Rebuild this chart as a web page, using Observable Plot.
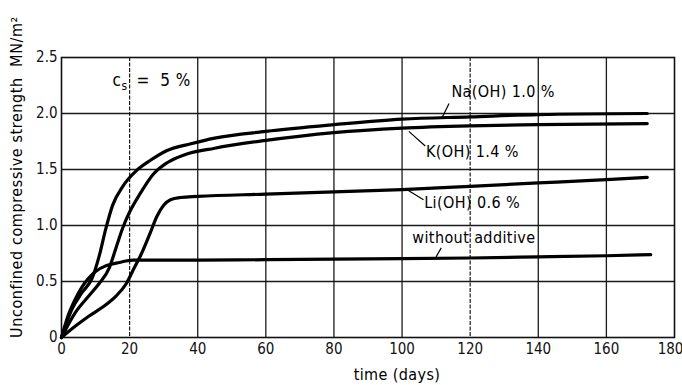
<!DOCTYPE html>
<html><head><meta charset="utf-8">
<script src="https://cdn.jsdelivr.net/npm/d3@7"></script>
<script src="https://cdn.jsdelivr.net/npm/@observablehq/plot@0.6"></script>
<style>
body{margin:0;background:#fff;}
#chart{position:relative;width:682px;height:385px;}
svg{font-family:"DejaVu Sans Condensed","DejaVu Sans",sans-serif;}
</style></head>
<body><div id="chart"></div>
<script>
// time (days) and strength (MN/m²) per series
const naDays = [0,3,6,9,11,13,15,18,22,26,31,38,45,60,80,100,120,140,172];
const naVals = [0,0.25,0.4,0.53,0.72,0.97,1.18,1.35,1.49,1.58,1.67,1.73,1.78,1.84,1.9,1.95,1.97,1.99,2.0];
const kDays = [0,4,8,11,14,16,18,20,23,27,31,36,45,60,80,100,120,140,172];
const kVals = [0,0.22,0.37,0.48,0.62,0.8,0.98,1.12,1.28,1.46,1.56,1.63,1.69,1.76,1.83,1.87,1.89,1.9,1.91];
const liDays = [0,4,8,12,16,19,21,23.5,26,28,30,32,35,40,60,80,100,120,140,160,172];
const liVals = [0,0.1,0.19,0.27,0.37,0.48,0.6,0.75,0.93,1.08,1.18,1.23,1.25,1.26,1.28,1.3,1.32,1.35,1.38,1.41,1.43];
const woDays = [0,2,4,6,8,10,13,17,21,40,60,80,100,120,140,160,173];
const woVals = [0,0.2,0.34,0.45,0.53,0.59,0.64,0.67,0.69,0.69,0.695,0.7,0.705,0.71,0.72,0.73,0.74];

const seriesNames = ["Na(OH) 1.0 %","K(OH) 1.4 %","Li(OH) 0.6 %","without additive"];
const xTicks = [0,20,40,60,80,100,120,140,160,180];
const yTicks = [0,0.5,1.0,1.5,2.0,2.5];
const yTickLabels = ["0","0.5","1.0","1.5","2.0","2.5"];

// label anchor points (data coords) and leader lines
const labelX = [114.5,107,106.5,103];
const labelY = [2.19,1.66,1.205,0.89];
const leaderFrom = [[111.7,1.96],[102,1.84],[101.5,1.32],[110,0.72]];
const leaderTo = [[113.8,2.09],[106.8,1.71],[106.3,1.23],[111.5,0.80]];

const seriesData = [[naDays,naVals],[kDays,kVals],[liDays,liVals],[woDays,woVals]]
  .flatMap(([d,v],i)=>d.map((t,j)=>({series:seriesNames[i],t,v:v[j]})));
const labels = seriesNames.map((s,i)=>({s,x:labelX[i],y:labelY[i]}));
const leaders = leaderFrom.map((f,i)=>({x1:f[0],y1:f[1],x2:leaderTo[i][0],y2:leaderTo[i][1]}));

const chart = Plot.plot({
  width:682,height:385,
  marginLeft:61,marginRight:8,marginTop:57,marginBottom:48,
  style:{fontSize:"15px",color:"#111",background:"#fff"},
  x:{domain:[0,180],ticks:xTicks,tickSize:0,tickPadding:6,label:null},
  y:{domain:[0,2.5],ticks:yTicks,tickSize:0,tickPadding:4,label:null,tickFormat:(d)=>yTickLabels[yTicks.indexOf(d)]},
  marks:[
    Plot.ruleY(yTicks.filter(d=>d>0&&d<2.5),{stroke:"#1a1a1a",strokeWidth:1.3}),
    Plot.ruleX(xTicks.filter(d=>d>0&&d<180&&d!==20&&d!==120),{stroke:"#1a1a1a",strokeWidth:1.3}),
    Plot.ruleX(xTicks.filter(d=>d===20||d===120),{stroke:"#1a1a1a",strokeWidth:1.2,strokeDasharray:"4,1.5"}),
    Plot.frame({stroke:"#111",strokeWidth:1.6}),
    Plot.line(seriesData,{x:"t",y:"v",z:"series",stroke:"#000",strokeWidth:3.2,curve:"monotone-x"}),
    Plot.link(leaders,{x1:"x1",y1:"y1",x2:"x2",y2:"y2",stroke:"#000",strokeWidth:1.2}),
    Plot.text(labels,{x:"x",y:"y",text:"s",textAnchor:"start",fontSize:16,fill:"#000"}),
    Plot.text(["c"],{x:15,y:2.29,text:d=>d,textAnchor:"start",fontSize:17,fill:"#000"}),
    Plot.text(["s"],{x:15,y:2.29,dx:9,dy:5,text:d=>d,textAnchor:"start",fontSize:12,fill:"#000"}),
    Plot.text(["=  5 %"],{x:15,y:2.29,dx:24,text:d=>d,textAnchor:"start",fontSize:17,fill:"#000"})
  ]
});
const svg = d3.select(chart);
svg.selectAll("[aria-label='series'] text, g[aria-label='text'] text").attr("letter-spacing","0.4");
// keep the last x tick label inside the picture
const xt = svg.selectAll("g[aria-label='x-axis tick label'] text").nodes();
if (xt.length) d3.select(xt[xt.length-1]).attr("dx","-4");
svg.append("text")
  .attr("transform","translate(22,177) rotate(-90)")
  .attr("text-anchor","middle")
  .attr("font-size","16px")
  .attr("letter-spacing","0.6")
  .attr("fill","#000")
  .text("Unconfined compressive strength  MN/m²");
svg.append("text")
  .attr("x",397).attr("y",380)
  .attr("text-anchor","middle")
  .attr("font-size","16px")
  .attr("letter-spacing","0.4")
  .attr("fill","#000")
  .text("time (days)");
document.getElementById("chart").appendChild(chart);
</script></body></html>
